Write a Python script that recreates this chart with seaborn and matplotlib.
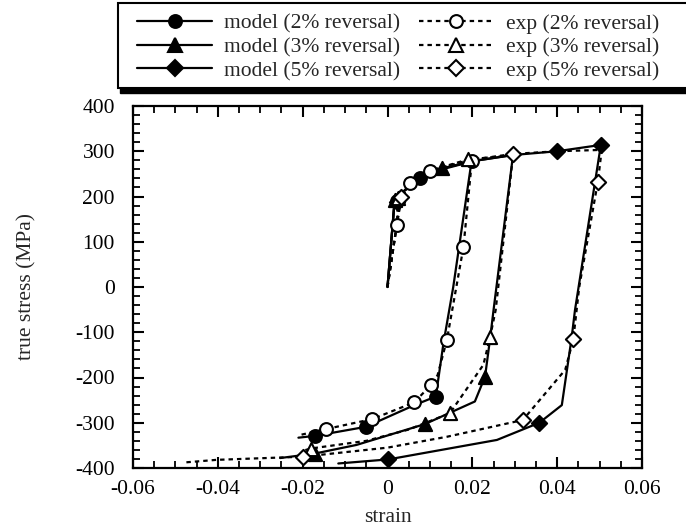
import matplotlib
matplotlib.use('Agg')
import matplotlib.pyplot as plt
from matplotlib.lines import Line2D
from matplotlib.patches import Rectangle
from matplotlib.ticker import MultipleLocator, FuncFormatter
import seaborn as sns

# model curves (solid, filled markers)
model_2_strain = [0.0, 0.0016, 0.0022, 0.004, 0.0077, 0.012, 0.0198, 0.0155, 0.0132, 0.0118,
                  0.0114, 0.0061, -0.0051, -0.0171, -0.021]
model_2_stress = [0, 182, 190, 213, 240, 258, 277, 0, -124, -215, -242, -262, -309, -329, -333]
model_2_marks = [2, 4, 10, 12, 13]

model_3_strain = [0.0, 0.0016, 0.0018, 0.004, 0.0077, 0.0128, 0.02, 0.0296, 0.025, 0.0242,
                  0.023, 0.0206, 0.0088, -0.0073, -0.0171, -0.0253]
model_3_stress = [0, 182, 192, 213, 240, 262, 278, 292, -51, -113, -198, -253, -303, -349, -368, -378]
model_3_marks = [2, 5, 10, 12, 14]

model_5_strain = [0.0, 0.0016, 0.0022, 0.004, 0.0077, 0.0128, 0.02, 0.03, 0.040, 0.0503,
                  0.0442, 0.0434, 0.0411, 0.0358, 0.0258, 0.0002, -0.0116]
model_5_stress = [0, 182, 188, 213, 240, 262, 278, 292, 300, 314, -51, -113, -261, -300, -338, -381, -390]
model_5_marks = [2, 8, 9, 13, 15]

# experimental curves (dotted, open markers)
exp_2_strain = [0.0, 0.0022, 0.0032, 0.0053, 0.010, 0.0199, 0.0179, 0.014, 0.0118, 0.0103,
                0.0063, -0.0036, -0.0145, -0.0206]
exp_2_stress = [0, 138, 195, 229, 257, 279, 88, -117, -195, -216, -255, -292, -314, -327]
exp_2_marks = [1, 3, 4, 5, 6, 7, 9, 10, 11, 12]

exp_3_strain = [0.0, 0.0022, 0.0025, 0.0053, 0.010, 0.019, 0.0296, 0.0255, 0.0242, 0.0226,
                0.0147, 0.005, -0.005, -0.0181, -0.020]
exp_3_stress = [0, 138, 197, 229, 257, 282, 291, -51, -110, -172, -279, -315, -340, -357, -362]
exp_3_marks = [2, 5, 8, 10, 13]

exp_5_strain = [0.0, 0.0022, 0.0033, 0.0053, 0.010, 0.019, 0.0295, 0.040, 0.0505, 0.0496,
                0.0452, 0.0438, 0.0419, 0.0319, 0.014, 0.0, -0.0199, -0.0403, -0.0482]
exp_5_stress = [0, 138, 200, 229, 257, 280, 294, 300, 303, 233, 0, -116, -183, -294, -331,
                -355, -375, -382, -388]
exp_5_marks = [2, 6, 9, 11, 13, 16]

legend_labels = ['model (2% reversal)', 'model (3% reversal)', 'model (5% reversal)',
                 'exp (2% reversal)', 'exp (3% reversal)', 'exp (5% reversal)']

sns.set_theme(style='ticks')
plt.rcParams['font.family'] = ['Liberation Serif', 'DejaVu Serif']
plt.rcParams['axes.unicode_minus'] = False
FS = 15.5

DOT = (0, (2.0, 1.8))
series = [
    (model_2_strain, model_2_stress, model_2_marks, '-', 'o', 'black', 85),
    (model_3_strain, model_3_stress, model_3_marks, '-', '^', 'black', 90),
    (model_5_strain, model_5_stress, model_5_marks, '-', 'D', 'black', 60),
    (exp_2_strain, exp_2_stress, exp_2_marks, DOT, 'o', 'white', 85),
    (exp_3_strain, exp_3_stress, exp_3_marks, DOT, '^', 'white', 90),
    (exp_5_strain, exp_5_stress, exp_5_marks, DOT, 'D', 'white', 60),
]

W, H = 686, 529
fig = plt.figure(figsize=(W / 100, H / 100), dpi=100)
ax = fig.add_axes([133 / W, 1 - 468 / H, 509 / W, 362 / H])

handles = []
for xs, ys, marks, ls, mk, fc, size in series:
    sns.lineplot(x=xs, y=ys, sort=False, estimator=None, ax=ax, color='black',
                 linewidth=1.6, linestyle=ls, zorder=2)
    sns.scatterplot(x=[xs[i] for i in marks], y=[ys[i] for i in marks], ax=ax,
                    marker=mk, s=size, color=fc, edgecolor='black', linewidth=1.5, zorder=3)
    handles.append(Line2D([], [], color='black', linewidth=1.6, linestyle=ls, marker=mk,
                          markersize=size ** 0.5, markerfacecolor=fc, markeredgecolor='black',
                          markeredgewidth=1.5))

ax.set_xlim(-0.06, 0.06)
ax.set_ylim(-400, 400)
ax.xaxis.set_major_locator(MultipleLocator(0.02))
ax.xaxis.set_minor_locator(MultipleLocator(0.005))
ax.yaxis.set_major_locator(MultipleLocator(100))
ax.yaxis.set_minor_locator(MultipleLocator(20))
ax.xaxis.set_major_formatter(FuncFormatter(lambda v, p: '0' if abs(v) < 1e-9 else f'{v:.2f}'))
ax.tick_params(which='both', direction='in', top=True, right=True, colors='black',
               labelsize=FS)
ax.tick_params(axis='x', pad=9)
ax.tick_params(axis='y', pad=13)
ax.tick_params(which='major', length=8, width=1.5)
ax.tick_params(which='minor', length=5, width=1.3)
for sp in ax.spines.values():
    sp.set_linewidth(1.6)
    sp.set_color('black')

ax.set_xlabel('strain', fontsize=FS, labelpad=6)
ax.set_ylabel('true stress (MPa)', fontsize=FS, labelpad=28)

# legend box with a drop shadow, running off the right edge
fig.add_artist(Rectangle((120 / W, 1 - 93 / H), 600 / W, 90 / H, transform=fig.transFigure,
                         facecolor='black', edgecolor='black', zorder=1))
fig.add_artist(Rectangle((118 / W, 1 - 88 / H), 600 / W, 85 / H, transform=fig.transFigure,
                         facecolor='white', edgecolor='black', linewidth=1.5, zorder=2))

fig.legend(handles, legend_labels, ncol=2, loc='upper left',
           bbox_to_anchor=(137 / W, 1 - 13.5 / H), borderaxespad=0, borderpad=0,
           fontsize=FS, frameon=False, handlelength=3.5, handletextpad=0.55,
           columnspacing=0.85, labelspacing=0.17)

fig.savefig('out.png', dpi=100)
